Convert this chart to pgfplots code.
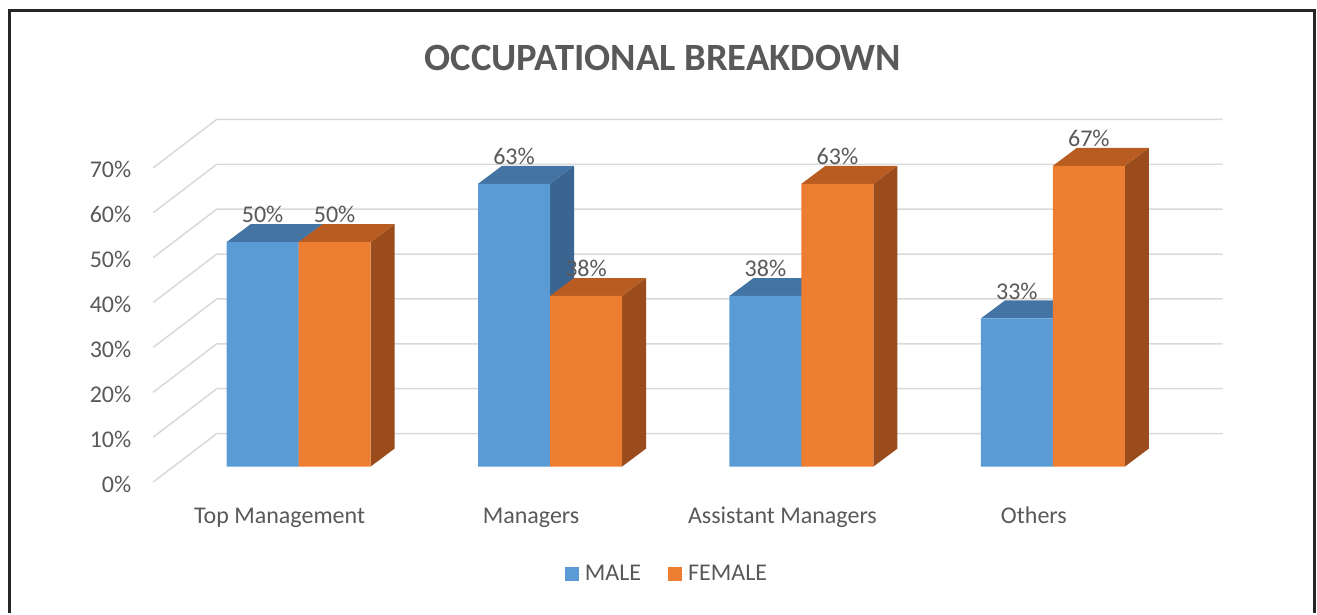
\documentclass[border=0pt]{standalone}
\usepackage{fontspec}
\setmainfont{Carlito}
\usepackage{pgfplots}
\pgfplotsset{compat=1.18}
\definecolor{mblue}{HTML}{5B9BD5}
\definecolor{mbluetop}{HTML}{4374A3}
\definecolor{mblueside}{HTML}{396590}
\definecolor{forange}{HTML}{ED7D31}
\definecolor{forangetop}{HTML}{B95C21}
\definecolor{forangeside}{HTML}{9A4C1C}
\definecolor{txt}{HTML}{595959}
\definecolor{gridc}{HTML}{D9D9D9}
\begin{document}
\begin{tikzpicture}
\begin{axis}[
  x=0.5pt, y=2.245pt,
  xmin=0, xmax=1317, ymin=-32.63, ymax=103.9,
  clip=false,
  axis line style={draw=none},
  major tick length=0pt,
  ytick={0,10,20,30,40,50,60,70},
  yticklabels={0\%,10\%,20\%,30\%,40\%,50\%,60\%,70\%},
  yticklabel style={anchor=east, inner sep=0pt, xshift=65.75pt, yshift=-8.75pt,
    font=\fontsize{12}{14}\selectfont, text=txt},
  xtick={279.5,531,782.5,1034},
  xticklabels={Top Management,Managers,Assistant Managers,Others},
  xticklabel style={anchor=base, inner sep=0pt, yshift=45pt,
    font=\fontsize{12}{14}\selectfont, text=txt},
  title={OCCUPATIONAL BREAKDOWN},
  title style={at={(0.5034,0.8866)}, anchor=center, inner sep=0pt,
    font=\bfseries\fontsize{19.3}{22}\selectfont, text=txt},
  legend columns=2,
  legend style={at={(0.5061,0.0636)}, anchor=center, draw=none, fill=none,
    font=\fontsize{12}{14}\selectfont, text=txt,
    nodes={inner sep=0.5pt},
    /tikz/every even column/.append style={column sep=13pt}},
  legend cell align=left,
]
% frame
\draw[line width=1.5pt, black!85] (axis cs:9,-32.63) -- (axis cs:9,101.67) -- (axis cs:1315,101.67) -- (axis cs:1315,-32.63);
% gridlines (side wall diagonals + back wall)
\pgfplotsinvokeforeach{0,10,20,30,40,50,60,70}{
  \draw[gridc, line width=0.75pt] (axis cs:153,{#1-3.45}) -- (axis cs:216.7,{#1+7.35}) -- (axis cs:1222.7,{#1+7.35});
}
% ---- MALE (blue) 3D faces
\addplot[fill=mblueside, draw=none, forget plot] coordinates {(298.5,0) (322.5,4) (322.5,54) (298.5,50)} -- cycle;
\addplot[fill=mbluetop, draw=none, forget plot] coordinates {(226.5,50) (298.5,50) (322.5,54) (250.5,54)} -- cycle;
\addplot[fill=mblueside, draw=none, forget plot] coordinates {(550,0) (574,4) (574,67) (550,63)} -- cycle;
\addplot[fill=mbluetop, draw=none, forget plot] coordinates {(478,63) (550,63) (574,67) (502,67)} -- cycle;
\addplot[fill=mblueside, draw=none, forget plot] coordinates {(801.5,0) (825.5,4) (825.5,42) (801.5,38)} -- cycle;
\addplot[fill=mbluetop, draw=none, forget plot] coordinates {(729.5,38) (801.5,38) (825.5,42) (753.5,42)} -- cycle;
\addplot[fill=mblueside, draw=none, forget plot] coordinates {(1053,0) (1077,4) (1077,37) (1053,33)} -- cycle;
\addplot[fill=mbluetop, draw=none, forget plot] coordinates {(981,33) (1053,33) (1077,37) (1005,37)} -- cycle;
% MALE front faces
\addplot[ybar, bar width=36pt, bar shift=0pt, fill=mblue, draw=none,
  legend image code/.code={\fill[mblue] (0pt,-3.5pt) rectangle (7pt,3.5pt); \path (0pt,0pt) -- (9.5pt,0pt);},
  nodes near coords={\pgfmathprintnumber[assume math mode=true]{\pgfplotspointmeta}\%},
  every node near coord/.append style={anchor=south, inner sep=0pt, yshift=9.3pt,
    font=\fontsize{12}{14}\selectfont, text=txt}]
  coordinates {(262.5,50) (514,63) (765.5,38) (1017,33)};
\addlegendentry{MALE}
% ---- FEMALE (orange) 3D faces
\addplot[fill=forangeside, draw=none, forget plot] coordinates {(370.5,0) (394.5,4) (394.5,54) (370.5,50)} -- cycle;
\addplot[fill=forangetop, draw=none, forget plot] coordinates {(298.5,50) (370.5,50) (394.5,54) (322.5,54)} -- cycle;
\addplot[fill=forangeside, draw=none, forget plot] coordinates {(622,0) (646,4) (646,42) (622,38)} -- cycle;
\addplot[fill=forangetop, draw=none, forget plot] coordinates {(550,38) (622,38) (646,42) (574,42)} -- cycle;
\addplot[fill=forangeside, draw=none, forget plot] coordinates {(873.5,0) (897.5,4) (897.5,67) (873.5,63)} -- cycle;
\addplot[fill=forangetop, draw=none, forget plot] coordinates {(801.5,63) (873.5,63) (897.5,67) (825.5,67)} -- cycle;
\addplot[fill=forangeside, draw=none, forget plot] coordinates {(1125,0) (1149,4) (1149,71) (1125,67)} -- cycle;
\addplot[fill=forangetop, draw=none, forget plot] coordinates {(1053,67) (1125,67) (1149,71) (1077,71)} -- cycle;
% FEMALE front faces
\addplot[ybar, bar width=36pt, bar shift=0pt, fill=forange, draw=none,
  legend image code/.code={\fill[forange] (0pt,-3.5pt) rectangle (7pt,3.5pt); \path (0pt,0pt) -- (9.5pt,0pt);},
  nodes near coords={\pgfmathprintnumber[assume math mode=true]{\pgfplotspointmeta}\%},
  every node near coord/.append style={anchor=south, inner sep=0pt, yshift=9.3pt,
    font=\fontsize{12}{14}\selectfont, text=txt}]
  coordinates {(334.5,50) (586,38) (837.5,63) (1089,67)};
\addlegendentry{FEMALE}
\end{axis}
\end{tikzpicture}
\end{document}
